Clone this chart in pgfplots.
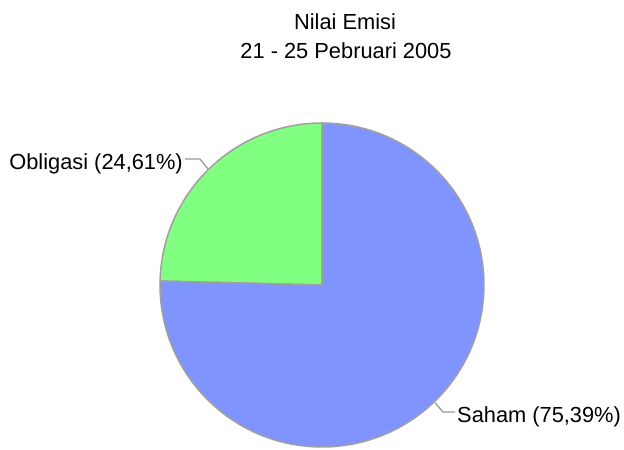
\documentclass[border=0pt]{standalone}
\usepackage{pgfplots}
\usepackage{pgfplotstable}
\pgfplotsset{compat=1.18}
\usepackage{fontspec}
\setmainfont{Liberation Sans}
\definecolor{sahamblue}{RGB}{128,148,255}
\definecolor{obliggreen}{RGB}{128,255,128}
\definecolor{edgegray}{RGB}{160,160,160}
\definecolor{leadgray}{RGB}{150,150,150}
\newcommand\lblfont{\fontsize{21.9}{26}\selectfont}
\pgfplotstableread{
label value
Saham 75.39
Obligasi 24.61
}\piedata
\begin{document}
\begin{tikzpicture}
\pgfplotstablegetelem{0}{value}\of\piedata \let\vS\pgfplotsretval
\pgfplotstablegetelem{1}{value}\of\piedata \let\vO\pgfplotsretval
\pgfmathsetmacro\aO{90+3.6*\vO}
\pgfmathsetmacro\aS{\aO+3.6*\vS}
\begin{axis}[
  hide axis, scale only axis, width=624bp, height=449bp,
  xmin=0, xmax=624, ymin=0, ymax=449, clip=false,
]
\path (axis cs:0,0) rectangle (axis cs:624,449);
\filldraw[fill=obliggreen, draw=edgegray, line width=1.5bp, line join=round]
  (axis cs:322,164) -- ++(90:162bp) arc[start angle=90, end angle=\aO, radius=162bp] -- cycle;
\filldraw[fill=sahamblue, draw=edgegray, line width=1.5bp, line join=round]
  (axis cs:322,164) -- ++(\aO:162bp) arc[start angle=\aO, end angle=\aS, radius=162bp] -- cycle;
\draw[leadgray, line width=1.2bp] (axis cs:185,290) -- (axis cs:200,290) -- (axis cs:208,280);
\draw[leadgray, line width=1.2bp] (axis cs:435,46.3) -- (axis cs:443,37) -- (axis cs:455,37);
\node[anchor=base east, inner sep=0pt, font=\lblfont] at (axis cs:183,279) {Obligasi (24,61\%)};
\node[anchor=base west, inner sep=0pt, font=\lblfont] at (axis cs:457,26.5) {Saham (75,39\%)};
\node[anchor=base, inner sep=0pt, font=\lblfont] at (axis cs:345,419) {Nilai Emisi};
\node[anchor=base, inner sep=0pt, font=\lblfont] at (axis cs:346,390.5) {21 - 25 Pebruari 2005};
\end{axis}
\end{tikzpicture}
\end{document}
